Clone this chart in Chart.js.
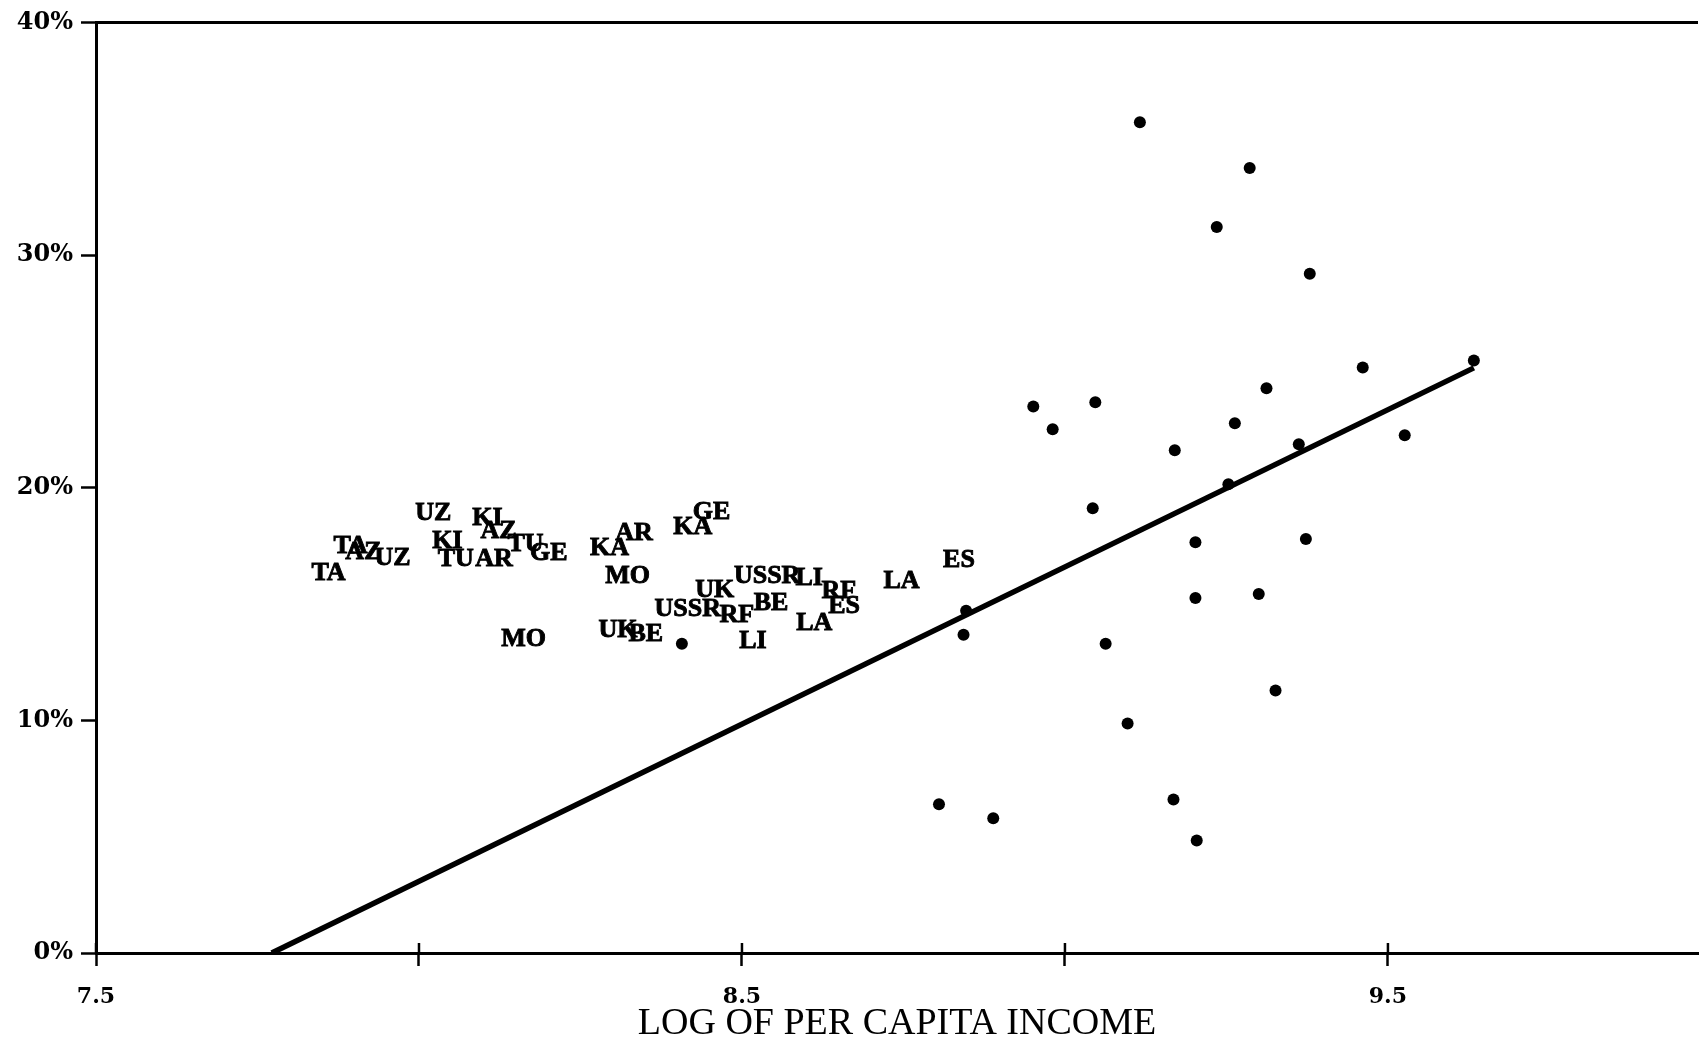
<!DOCTYPE html>
<html>
<head>
<meta charset="utf-8">
<script src="https://cdn.jsdelivr.net/npm/chart.js@4/dist/chart.umd.min.js"></script>
<style>
  html, body { margin: 0; padding: 0; background: #fff; }
  #wrap { width: 1704px; height: 1043px; }
</style>
</head>
<body>
<div id="wrap"><canvas id="c" width="1704" height="1043"></canvas></div>
<script>
// ---- data ----
const labelCodes = ['TA','TA','AZ','UZ','UZ','KI','KI','AZ','TU','GE','TU','AR','KA','AR','KA','GE',
                    'MO','MO','UK','UK','BE','USSR','USSR','LI','RF','BE','RF','LI','LA','ES','LA','ES'];
const labelX = [7.860, 7.894, 7.914, 7.959, 8.022, 8.106, 8.044, 8.123, 8.165, 8.201, 8.057, 8.116, 8.295, 8.333, 8.424, 8.453,
                8.323, 8.162, 8.458, 8.308, 8.351, 8.539, 8.416, 8.604, 8.650, 8.545, 8.492, 8.517, 8.612, 8.658, 8.747, 8.836];
const labelY = [16.33, 17.49, 17.23, 16.98, 18.91, 18.69, 17.71, 18.14, 17.58, 17.19, 16.93, 16.93, 17.41, 18.05, 18.31, 18.95,
                16.21, 13.50, 15.61, 13.85, 13.68, 16.21, 14.79, 16.12, 15.56, 15.05, 14.53, 13.42, 14.19, 14.92, 15.99, 16.89];

const dotX = [9.116, 9.286, 9.235, 9.379, 9.461, 9.633, 8.951, 8.981, 9.047, 9.263, 9.312, 9.170, 9.362, 9.526, 9.253,
              9.043, 9.202, 9.373, 9.202, 9.300, 9.063, 8.843, 8.847, 9.097, 9.326, 8.805, 8.889, 9.168, 9.204, 8.407];
const dotY = [35.71, 33.74, 31.21, 29.20, 25.17, 25.47, 23.49, 22.51, 23.67, 22.77, 24.27, 21.61, 21.87, 22.25, 20.15,
              19.12, 17.66, 17.79, 15.26, 15.43, 13.29, 13.68, 14.71, 9.86, 11.28, 6.39, 5.79, 6.60, 4.84, 13.29];

const fitX = [7.772, 9.633];
const fitY = [0, 25.15];

const labelledXTicks = ['7.5', '8.5', '9.5'];
const xTitle = 'LOG OF PER CAPITA INCOME';

// ---- plugins ----
const textLabels = {
  id: 'textLabels',
  afterDatasetsDraw(chart) {
    const ctx = chart.ctx;
    const meta = chart.getDatasetMeta(0);
    ctx.save();
    ctx.fillStyle = '#000';
    ctx.strokeStyle = '#000';
    ctx.lineWidth = 0.9;
    ctx.font = 'bold 26px "Liberation Serif", serif';
    ctx.textAlign = 'center';
    ctx.textBaseline = 'middle';
    meta.data.forEach((el, i) => {
      ctx.fillText(labelCodes[i], el.x, el.y);
      ctx.strokeText(labelCodes[i], el.x, el.y);
    });
    ctx.restore();
  }
};

const crossTicks = {
  id: 'crossTicks',
  afterDraw(chart) {
    const ctx = chart.ctx;
    const xs = chart.scales.x;
    const bottom = chart.chartArea.bottom;
    ctx.save();
    ctx.strokeStyle = '#000';
    ctx.lineWidth = 2.5;
    xs.ticks.forEach(t => {
      const px = xs.getPixelForValue(t.value);
      ctx.beginPath();
      ctx.moveTo(px, bottom - 10);
      ctx.lineTo(px, bottom);
      ctx.stroke();
    });
    ctx.restore();
  }
};

new Chart(document.getElementById('c'), {
  type: 'scatter',
  data: {
    datasets: [
      {
        label: 'republics',
        data: labelX.map((x, i) => ({ x: x, y: labelY[i] })),
        pointRadius: 0,
        pointHoverRadius: 0,
        showLine: false
      },
      {
        label: 'countries',
        data: dotX.map((x, i) => ({ x: x, y: dotY[i] })),
        pointRadius: 6,
        pointStyle: 'circle',
        backgroundColor: '#000',
        borderColor: '#000',
        borderWidth: 0
      },
      {
        type: 'line',
        label: 'fit',
        data: fitX.map((x, i) => ({ x: x, y: fitY[i] })),
        borderColor: '#000',
        borderWidth: 5.5,
        pointRadius: 0,
        fill: false
      }
    ]
  },
  options: {
    responsive: false,
    animation: false,
    devicePixelRatio: 1,
    layout: { padding: { top: 20, right: 0, bottom: 0, left: 0 } },
    plugins: {
      legend: { display: false },
      tooltip: { enabled: false }
    },
    scales: {
      x: {
        type: 'linear',
        min: 7.5,
        max: 9.98,
        afterFit: s => { s.height = 90; },
        ticks: {
          stepSize: 0.5,
          includeBounds: false,
          autoSkip: false,
          maxRotation: 0,
          color: '#000',
          font: { family: '"DejaVu Serif", serif', weight: 'bold', size: 22 },
          padding: 18,
          callback: v => {
            const s = v.toFixed(1);
            return labelledXTicks.includes(s) ? s : '';
          }
        },
        grid: {
          drawOnChartArea: false,
          drawTicks: true,
          tickLength: 13,
          tickColor: '#000',
          tickWidth: 2.5
        },
        border: { display: true, color: '#000', width: 3 },
        title: {
          display: true,
          text: xTitle,
          color: '#000',
          font: { family: '"Liberation Serif", serif', size: 38, weight: 'normal', lineHeight: 1 },
          padding: { top: 0, bottom: 0 }
        }
      },
      y: {
        type: 'linear',
        min: 0,
        max: 40,
        afterFit: s => { s.width = 96; },
        ticks: {
          stepSize: 10,
          color: '#000',
          font: { family: '"DejaVu Serif", serif', weight: 'bold', size: 24 },
          padding: 8,
          callback: v => v + '%'
        },
        grid: {
          drawOnChartArea: true,
          color: c => (c.tick && c.tick.value === 40) ? '#000' : 'rgba(0,0,0,0)',
          lineWidth: 3,
          drawTicks: true,
          tickLength: 15,
          tickColor: '#000',
          tickWidth: 2.5
        },
        border: { display: true, color: '#000', width: 3 }
      }
    }
  },
  plugins: [textLabels, crossTicks]
});
</script>
</body>
</html>
